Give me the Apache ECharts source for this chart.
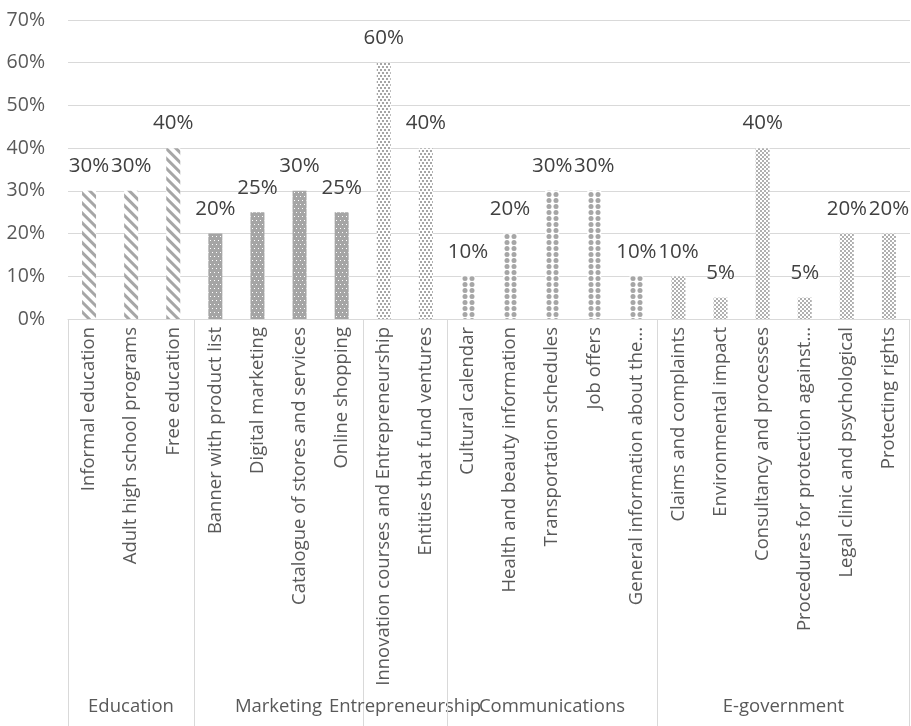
<!DOCTYPE html>
<html>
<head>
<meta charset="utf-8">
<script src="https://cdn.jsdelivr.net/npm/echarts@6/dist/echarts.min.js"></script>
<style>
  html, body { margin: 0; padding: 0; background: #fff; }
  #chart { width: 911px; height: 726px; }
</style>
</head>
<body>
<div id="chart"></div>
<script>
// ---- Data ----
const groupNames = ['Education', 'Marketing', 'Entrepreneurship', 'Communications', 'E-government'];

const educationCategories = ['Informal education', 'Adult high school programs', 'Free education'];
const educationValues = [30, 30, 40];

const marketingCategories = ['Banner with product list', 'Digital marketing', 'Catalogue of stores and services', 'Online shopping'];
const marketingValues = [20, 25, 30, 25];

const entrepreneurshipCategories = ['Innovation courses and Entrepreneurship', 'Entities that fund ventures'];
const entrepreneurshipValues = [60, 40];

const communicationsCategories = ['Cultural calendar', 'Health and beauty information', 'Transportation schedules', 'Job offers', 'General information about the...'];
const communicationsValues = [10, 20, 30, 30, 10];

const egovCategories = ['Claims and complaints', 'Environmental impact', 'Consultancy and processes', 'Procedures for protection against...', 'Legal clinic and psychological', 'Protecting rights'];
const egovValues = [10, 5, 40, 5, 20, 20];

const yTicks = [0, 10, 20, 30, 40, 50, 60, 70];

// ---- Styles (patterns per group) ----
const FONT = '"Open Sans", sans-serif';
const styles = [
  { barColor: '#ffffff',
    decal: { symbol: 'rect', symbolSize: 1, dashArrayX: [[1, 0]], dashArrayY: [3, 4], rotation: Math.PI / 4, color: '#a6a6a6' } },
  { barColor: '#a5a5a5',
    decal: { symbol: 'rect', symbolSize: 1, dashArrayX: [[1, 3], [0, 2, 1, 1]], dashArrayY: [1, 3], rotation: 0, color: '#ffffff' } },
  { barColor: '#ffffff',
    decal: { symbol: 'rect', symbolSize: 1, dashArrayX: [[2, 2], [0, 2, 2, 0]], dashArrayY: [2, 1], rotation: 0, color: '#a6a6a6' } },
  { barColor: '#ffffff',
    decal: { symbol: 'circle', symbolSize: 1, dashArrayX: [[6, 1]], dashArrayY: [5, 1], rotation: 0, color: '#a6a6a6' } },
  { barColor: '#ffffff',
    decal: { symbol: 'rect', symbolSize: 1, dashArrayX: [[2, 2], [0, 2, 2, 0]], dashArrayY: [2, 0], rotation: 0, color: '#b0b0b0' } }
];

const groupCats = [educationCategories, marketingCategories, entrepreneurshipCategories, communicationsCategories, egovCategories];
const groupVals = [educationValues, marketingValues, entrepreneurshipValues, communicationsValues, egovValues];

const categories = [];
const barData = [];
const groupRanges = [];
groupCats.forEach((cats, g) => {
  const start = categories.length;
  cats.forEach((c, i) => {
    categories.push(c);
    barData.push({
      value: groupVals[g][i],
      itemStyle: { color: styles[g].barColor, decal: styles[g].decal }
    });
  });
  groupRanges.push([start, categories.length - 1]);
});

const chart = echarts.init(document.getElementById('chart'), null, { renderer: 'canvas' });

const option = {
  animation: false,
  backgroundColor: '#ffffff',
  grid: { left: 68, right: 1, top: 20, bottom: 407, outerBoundsMode: 'none', containLabel: false },
  xAxis: {
    type: 'category',
    data: categories,
    axisLine: { show: true, lineStyle: { color: '#d9d9d9', width: 1 } },
    axisTick: { show: false },
    axisLabel: {
      rotate: 90,
      interval: 0,
      margin: 8,
      color: '#595959',
      fontFamily: FONT,
      fontSize: 18.5
    }
  },
  yAxis: {
    type: 'value',
    min: yTicks[0],
    max: yTicks[yTicks.length - 1],
    interval: 10,
    axisLine: { show: false },
    axisTick: { show: false },
    splitLine: { lineStyle: { color: '#d9d9d9', width: 1 } },
    axisLabel: {
      margin: 23,
      color: '#595959',
      fontFamily: FONT,
      fontSize: 19.5,
      formatter: '{value}%'
    }
  },
  series: [
    {
      type: 'bar',
      data: barData,
      barWidth: 14,
      label: {
        show: true,
        position: 'top',
        distance: 14,
        color: '#404040',
        fontFamily: FONT,
        fontSize: 20.5,
        formatter: '{c}%'
      },
      labelLayout: { hideOverlap: false }
    },
    {
      type: 'custom',
      silent: true,
      clip: false,
      z: 10,
      data: groupRanges.map(r => [r[0], r[1]]),
      renderItem: function (params, api) {
        const s = api.value(0);
        const e = api.value(1);
        const p0 = api.coord([s, 0]);
        const p1 = api.coord([e, 0]);
        const w = api.size([1, 0])[0];
        const x0 = Math.round(p0[0] - w / 2) + 0.5;
        const x1 = Math.round(p1[0] + w / 2) - 0.5;
        const yTop = p0[1];
        const yBottom = api.getHeight();
        const children = [
          { type: 'line', shape: { x1: x0, y1: yTop, x2: x0, y2: yBottom }, style: { stroke: '#d9d9d9', lineWidth: 1 } },
          { type: 'text', x: (x0 + x1) / 2, y: yBottom - 19,
            style: { text: groupNames[params.dataIndex], fill: '#595959', font: '18.5px ' + FONT, align: 'center', verticalAlign: 'middle' } }
        ];
        if (params.dataIndex === groupRanges.length - 1) {
          children.push({ type: 'line', shape: { x1: x1, y1: yTop, x2: x1, y2: yBottom }, style: { stroke: '#d9d9d9', lineWidth: 1 } });
        }
        return { type: 'group', children: children };
      }
    }
  ]
};

chart.setOption(option);
</script>
</body>
</html>
